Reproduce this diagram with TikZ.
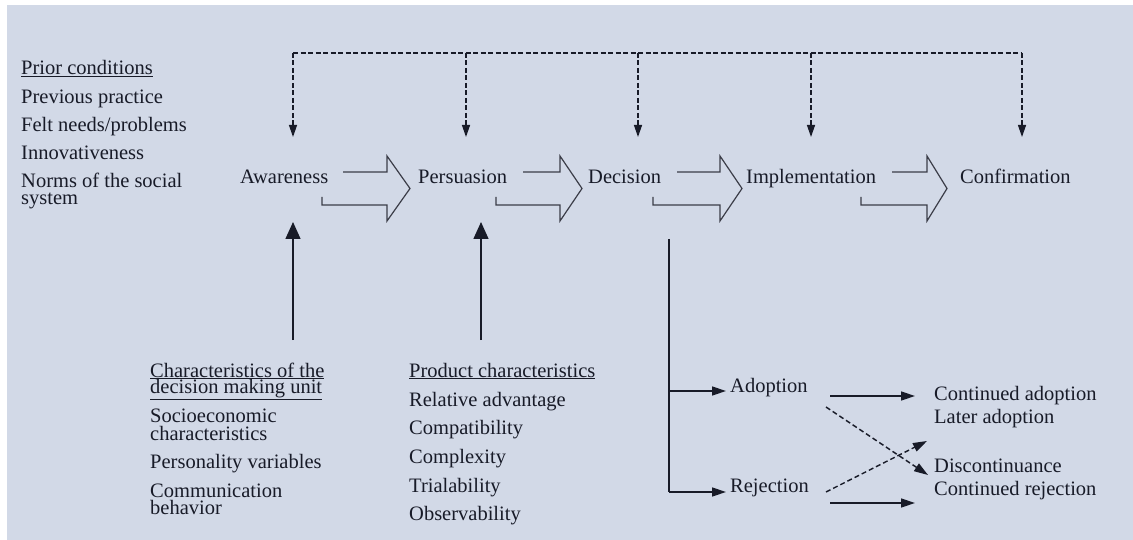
\documentclass[tikz,border=0pt]{standalone}
\usepackage{fontspec}
\setmainfont{Liberation Serif}
\usetikzlibrary{arrows.meta}
\definecolor{paper}{RGB}{210,217,231}
\definecolor{ink}{RGB}{24,27,40}
\newcommand{\blkarrow}[4]{%
  \draw[blk] (#2,172) -- (#3,172) -- (#3,156) -- (#4,188.5) -- (#3,221)
    -- (#3,205) -- (#1,205) -- (#1,197);}
\begin{document}
\begin{tikzpicture}[x=1pt,y=-1pt,
  txt/.style={anchor=base west, inner sep=0pt, text=ink,
    font=\rmfamily\fontsize{20.5}{22}\selectfont},
  blk/.style={draw=ink!85, line width=1.2pt, line join=miter},
  topline/.style={draw=ink, line width=2pt, dash pattern=on 5pt off 2.5pt},
  downarrow/.style={draw=ink, line width=1.3pt, dash pattern=on 5pt off 2.5pt,
    -{Triangle[width=8pt,length=12pt]}},
  uparrow/.style={draw=ink, line width=1.4pt, -{Triangle[width=15pt,length=17pt]}},
  flow/.style={draw=ink, line width=1.4pt, -{Triangle[width=9pt,length=14pt]}},
  dflow/.style={draw=ink, line width=1.4pt, dash pattern=on 5pt off 3pt,
    -{Triangle[width=9pt,length=14pt]}},
  line/.style={draw=ink, line width=1.4pt}]

% page and paper
\fill[white] (0,0) rectangle (1133,540);
\fill[paper] (7,5) rectangle (1133,540);
\useasboundingbox (0,0) rectangle (1133,540);

% prior conditions
\node[txt] (pc0) at (21,75) {\underline{Prior conditions}};
\node[txt] (pc1) at (21,104) {Previous practice};
\node[txt] (pc2) at (21,132) {Felt needs/problems};
\node[txt] (pc3) at (21,160) {Innovativeness};
\node[txt] (pc4) at (21,188) {Norms of the social};
\node[txt] (pc5) at (21,205) {system};

% stages
\node[txt] (aw) at (240,184) {Awareness};
\node[txt] (pe) at (418,184) {Persuasion};
\node[txt] (de) at (588,184) {Decision};
\node[txt] (im) at (746,184) {Implementation};
\node[txt] (co) at (960,184) {Confirmation};

% block arrows between stages
\blkarrow{322}{343}{387}{410}
\blkarrow{496}{523}{560}{582}
\blkarrow{653}{677}{720}{742}
\blkarrow{861}{892}{927}{947}

% feedback of prior conditions into every stage
\coordinate (t-aw) at (293,53);
\coordinate (t-pe) at (466,53);
\coordinate (t-de) at (638,53);
\coordinate (t-im) at (811,53);
\coordinate (t-co) at (1022,53);
\draw[topline] (t-aw) -- (t-co);
\foreach \s in {aw,pe,de,im,co}{
  \draw[downarrow] (t-\s) -- ++(0,84);
}

% decision making unit
\node[txt] (dm0) at (150,377) {\underline{Characteristics of the}};
\node[txt] (dm1) at (150,393) {\underline{decision making unit}};
\node[txt] (dm2) at (150,422) {Socioeconomic};
\node[txt] (dm3) at (150,440) {characteristics};
\node[txt] (dm4) at (150,468) {Personality variables};
\node[txt] (dm5) at (150,497) {Communication};
\node[txt] (dm6) at (150,514) {behavior};

% product characteristics
\node[txt] (pr0) at (409,377) {\underline{Product characteristics}};
\node[txt] (pr1) at (409,406) {Relative advantage};
\node[txt] (pr2) at (409,434) {Compatibility};
\node[txt] (pr3) at (409,463) {Complexity};
\node[txt] (pr4) at (409,492) {Trialability};
\node[txt] (pr5) at (409,520) {Observability};

\coordinate (dm-top) at (293,340);
\coordinate (aw-in) at (293,222);
\coordinate (pr-top) at (481,340);
\coordinate (pe-in) at (481,222);
\draw[uparrow] (dm-top) -- (aw-in);
\draw[uparrow] (pr-top) -- (pe-in);

% outcome of the decision
\node[txt] (ad) at (730,392) {Adoption};
\node[txt] (rj) at (730,492) {Rejection};
\coordinate (de-out) at (669,239);
\coordinate (ad-in) at (726,391);
\coordinate (rj-in) at (726,492);
\draw[line] (de-out) -- (669,492);
\draw[flow] (669,391) -- (ad-in);
\draw[flow] (669,492) -- (rj-in);

% later outcomes
\node[txt] (o1) at (934,400) {Continued adoption};
\node[txt] (o2) at (934,423) {Later adoption};
\node[txt] (o3) at (934,472) {Discontinuance};
\node[txt] (o4) at (934,495) {Continued rejection};

\coordinate (ad-a) at (830,396);
\coordinate (ad-b) at (826,407);
\coordinate (rj-a) at (826,492);
\coordinate (rj-b) at (830,503);
\draw[flow] (ad-a) -- (915,396);
\draw[dflow] (ad-b) -- (928,475);
\draw[dflow] (rj-a) -- (927,441);
\draw[flow] (rj-b) -- (915,503);
\end{tikzpicture}
\end{document}
